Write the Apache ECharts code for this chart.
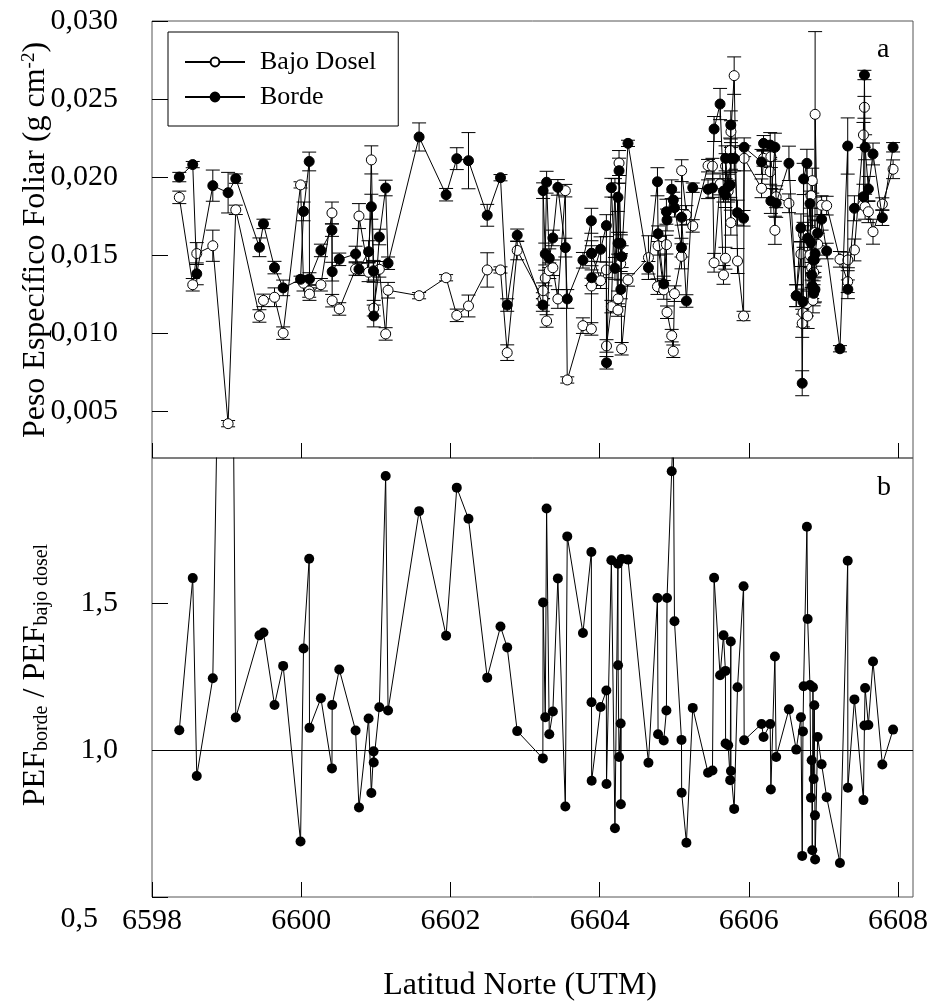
<!DOCTYPE html>
<html>
<head>
<meta charset="utf-8">
<script src="https://cdn.jsdelivr.net/npm/echarts@6/dist/echarts.min.js"></script>
<style>
html,body{margin:0;padding:0;background:#fff;}
#c{width:946px;height:1007px;}
</style>
</head>
<body>
<div id="c"></div>
<script>
// Latitud Norte (UTM, km)
const lat = [6598.366,6598.546,6598.600,6598.815,6599.020,6599.123,6599.440,6599.494,6599.642,6599.758,
6599.991,6600.031,6600.107,6600.111,6600.264,6600.412,6600.415,6600.510,6600.729,6600.774,
6600.903,6600.940,6600.970,6600.972,6601.047,6601.132,6601.164,6601.580,6601.942,6602.085,
6602.242,6602.493,6602.671,6602.761,6602.895,6603.239,6603.242,6603.271,6603.289,6603.325,
6603.373,6603.440,6603.540,6603.566,6603.776,6603.889,6603.891,6603.893,6604.013,6604.090,
6604.092,6604.157,6604.205,6604.245,6604.247,6604.260,6604.282,6604.284,6604.295,6604.380,
6604.654,6604.775,6604.783,6604.859,6604.895,6604.903,6604.966,6604.987,6605.003,6605.097,
6605.099,6605.163,6605.248,6605.453,6605.512,6605.534,6605.614,6605.660,6605.686,6605.688,
6605.723,6605.750,6605.758,6605.760,6605.803,6605.848,6605.929,6605.937,6606.170,6606.197,
6606.286,6606.295,6606.349,6606.366,6606.537,6606.635,6606.698,6606.715,6606.725,6606.734,
6606.778,6606.788,6606.819,6606.832,6606.842,6606.850,6606.859,6606.868,6606.877,6606.886,
6606.888,6606.922,6606.975,6607.043,6607.221,6607.325,6607.327,6607.415,6607.536,6607.549,
6607.558,6607.602,6607.664,6607.789,6607.933];
// Peso Especifico Foliar - Borde (g cm-2)
const borde = [0.0200,0.0208,0.0138,0.01945,0.0190,0.0199,0.0155,0.0170,0.0142,0.0129,
0.01345,0.0178,0.0210,0.01347,0.0153,0.0166,0.01394,0.01473,0.01507,0.01409,
0.01522,0.0181,0.01396,0.0111,0.01616,0.0193,0.01448,0.02257,0.01887,0.02118,
0.02105,0.01755,0.01996,0.0118,0.01627,0.0118,0.01913,0.01507,0.01967,0.0148,
0.0161,0.01934,0.01548,0.01219,0.01467,0.0172,0.01512,0.01355,0.01537,0.01689,
0.0081,0.01932,0.01415,0.0187,0.01576,0.02041,0.01576,0.0128,0.0149,0.02216,
0.01419,0.0197,0.01637,0.01315,0.01778,0.01725,0.01922,0.01853,0.01804,0.01548,
0.01742,0.01206,0.01932,0.01922,0.0193,0.02308,0.02468,0.0191,0.01885,0.0212,
0.01938,0.0195,0.02334,0.0212,0.0212,0.01772,0.01736,0.02191,0.02097,0.02216,
0.02205,0.01847,0.02191,0.01832,0.02088,0.0124,0.01674,0.00679,0.01202,0.01988,
0.02088,0.01608,0.0183,0.0158,0.01373,0.01302,0.01469,0.01255,0.01469,0.0128,
0.01509,0.0164,0.0173,0.01526,0.0090,0.02199,0.01281,0.0180,0.01874,0.02654,
0.02191,0.01924,0.02148,0.0174,0.02191];
// Peso Especifico Foliar - Bajo Dosel (g cm-2)
const bajoDosel = [0.0187,0.0131,0.0151,0.0156,0.0042,0.0179,0.0111,0.0121,0.0123,0.0100,
0.0195,0.0132,0.0127,0.0125,0.0131,0.0177,0.01208,0.01155,0.01411,0.0175,
0.0139,0.0211,0.0140,0.0116,0.01409,0.00995,0.01275,0.0124,0.01355,0.01114,
0.01174,0.01405,0.01405,0.00875,0.0153,0.01219,0.01272,0.01353,0.01078,0.0140,
0.01419,0.01219,0.01913,0.0070,0.01048,0.01027,0.01302,0.0151,0.01336,0.01405,
0.00918,0.0117,0.0193,0.01148,0.0122,0.0209,0.01445,0.0157,0.0090,0.01341,
0.01484,0.01298,0.0156,0.01277,0.01567,0.01134,0.00984,0.00884,0.01253,0.01492,
0.02041,0.01757,0.01687,0.02073,0.0207,0.01451,0.01956,0.01373,0.0148,0.0207,
0.0191,0.0217,0.01708,0.02291,0.0265,0.01462,0.0111,0.0212,0.01928,0.0212,
0.02034,0.02131,0.01659,0.01874,0.01832,0.0124,0.01507,0.01063,0.0113,0.0163,
0.0119,0.0111,0.0150,0.01881,0.0142,0.01977,0.0121,0.0139,0.01274,0.01645,
0.02402,0.0157,0.0182,0.01817,0.01473,0.0133,0.01469,0.01533,0.0227,0.02447,
0.0181,0.01778,0.0165,0.01827,0.0205];
// Error (SE) Borde
const errBorde = [0.0003,0.0002,0.0007,0.0010,0.0013,0.0003,0.0006,0.0003,0.0004,0.0005,
0.0002,0.0006,0.0006,0.0004,0.0004,0.0004,0.0006,0.0004,0.0005,0.0004,
0.0007,0.0008,0.0007,0.0007,0.0005,0.0005,0.0004,0.0009,0.0004,0.0007,
0.0018,0.0007,0.0002,0.0004,0.0004,0.0004,0.0005,0.0007,0.0007,0.0006,
0.0005,0.0005,0.0006,0.0006,0.0005,0.0008,0.0008,0.0005,0.0008,0.0007,
0.0004,0.0006,0.0007,0.0009,0.0007,0.0008,0.0007,0.0006,0.0007,0.0002,
0.0004,0.0009,0.0005,0.0005,0.0008,0.0007,0.0006,0.0005,0.0006,0.0006,
0.0005,0.0004,0.0003,0.0006,0.0006,0.0008,0.0010,0.0007,0.0008,0.0008,
0.0008,0.0008,0.0009,0.0007,0.0008,0.0008,0.0005,0.0006,0.0008,0.0005,
0.0008,0.0008,0.0009,0.0009,0.0011,0.0007,0.0009,0.0008,0.0008,0.0010,
0.0009,0.0008,0.0008,0.0008,0.0008,0.0008,0.0008,0.0008,0.0008,0.0008,
0.0008,0.0008,0.0007,0.0005,0.0002,0.0018,0.0006,0.0008,0.0008,0.0003,
0.0008,0.0008,0.0007,0.0005,0.0003];
// Error (SE) Bajo Dosel
const errBajo = [0.0004,0.0004,0.0007,0.0010,0.0002,0.0003,0.0004,0.0004,0.0006,0.0004,
0.0002,0.0005,0.0004,0.0004,0.0004,0.0007,0.0004,0.0004,0.0004,0.0008,
0.0006,0.0009,0.0006,0.0005,0.0005,0.0004,0.0005,0.0002,0.0002,0.0004,
0.0007,0.0011,0.0002,0.0005,0.0006,0.0004,0.0005,0.0005,0.0004,0.0005,
0.0005,0.0006,0.0004,0.0002,0.0005,0.0004,0.0005,0.0005,0.0005,0.0005,
0.0004,0.0004,0.0006,0.0004,0.0005,0.0008,0.0005,0.0006,0.0004,0.0004,
0.0014,0.0005,0.0006,0.0006,0.0006,0.0004,0.0004,0.0004,0.0005,0.0008,
0.0007,0.0006,0.0004,0.0004,0.0005,0.0006,0.0007,0.0006,0.0007,0.0008,
0.0007,0.0008,0.0008,0.0007,0.0012,0.0008,0.0003,0.0008,0.0006,0.0005,
0.0008,0.0007,0.0009,0.0007,0.0006,0.0007,0.0008,0.0009,0.0009,0.0008,
0.0008,0.0008,0.0008,0.0008,0.0008,0.0008,0.0008,0.0008,0.0008,0.0008,
0.0053,0.0007,0.0006,0.0006,0.0005,0.0007,0.0005,0.0007,0.0008,0.0007,
0.0008,0.0007,0.0008,0.0004,0.0006];
// PEF borde / PEF bajo dosel
const ratio = [1.068,1.586,0.912,1.245,4.40,1.111,1.391,1.401,1.154,1.287,
0.689,1.346,1.652,1.076,1.177,0.938,1.154,1.275,1.067,0.805,
1.108,0.854,0.996,0.958,1.146,1.934,1.135,1.814,1.390,1.894,
1.788,1.247,1.421,1.350,1.065,0.972,1.503,1.112,1.823,1.054,
1.132,1.585,0.808,1.728,1.399,1.675,1.163,0.896,1.147,1.203,
0.885,1.647,0.734,1.635,1.289,0.977,1.091,0.816,1.651,1.649,
0.957,1.518,1.054,1.033,1.135,1.518,1.950,2.096,1.439,1.035,
0.855,0.685,1.144,0.923,0.931,1.587,1.255,1.391,1.270,1.023,
1.017,0.898,1.370,0.929,0.800,1.214,1.558,1.034,1.089,1.045,
1.089,0.866,1.319,0.977,1.139,1.002,1.112,0.640,1.064,1.218,
1.761,1.447,1.222,0.838,0.966,0.659,1.214,0.902,1.153,0.778,
0.628,1.045,0.952,0.840,0.616,1.645,0.872,1.173,0.830,1.084,
1.212,1.086,1.302,0.951,1.070];

const xTicks = [6598,6600,6602,6604,6606,6608];
const yTicksA = [0.005,0.010,0.015,0.020,0.025,0.030];
const yTicksB = [0.5,1.0,1.5];

const FONT = '"Liberation Serif","Times New Roman",serif';
const ptsBajo = lat.map((x,i)=>[x,bajoDosel[i],errBajo[i]]);
const ptsBorde = lat.map((x,i)=>[x,borde[i],errBorde[i]]);
const ptsRatio = lat.map((x,i)=>[x,ratio[i]]);

function errRender(params, api){
  const x = api.value(0), y = api.value(1), e = api.value(2);
  const top = api.coord([x, y+e]);
  const bot = api.coord([x, y-e]);
  const w = 7;
  const st = {stroke:'#000', lineWidth:1};
  return {type:'group', children:[
    {type:'line', shape:{x1:top[0],y1:top[1],x2:bot[0],y2:bot[1]}, style:st},
    {type:'line', shape:{x1:top[0]-w,y1:top[1],x2:top[0]+w,y2:top[1]}, style:st},
    {type:'line', shape:{x1:bot[0]-w,y1:bot[1],x2:bot[0]+w,y2:bot[1]}, style:st}
  ]};
}

const comma = v => String(v).replace('.', ',');
const chart = echarts.init(document.getElementById('c'), null, {renderer:'canvas'});
const axisCommon = {
  type:'value',
  axisLine:{show:false},
  splitLine:{show:false}
};
const tickFont = {color:'#000', fontSize:30, fontFamily:FONT};
chart.setOption({
  animation:false,
  backgroundColor:'#fff',
  textStyle:{fontFamily:FONT},
  grid:[
    {left:152, top:21, width:761, height:437, show:true, borderColor:'#555', borderWidth:1, backgroundColor:'transparent'},
    {left:152, top:458, width:761, height:439, show:true, borderColor:'#555', borderWidth:1, backgroundColor:'transparent'}
  ],
  xAxis:[
    Object.assign({}, axisCommon, {gridIndex:0, min:6598, max:6608.2,
      axisTick:{inside:true, length:15, customValues:xTicks, lineStyle:{color:'#000'}},
      axisLabel:{show:false}}),
    Object.assign({}, axisCommon, {gridIndex:1, min:6598, max:6608.2,
      axisTick:{inside:true, length:15, customValues:xTicks, lineStyle:{color:'#000'}},
      axisLabel:Object.assign({customValues:xTicks, margin:9, formatter:v=>String(v)}, tickFont)})
  ],
  yAxis:[
    Object.assign({}, axisCommon, {gridIndex:0, min:0.002, max:0.030,
      axisTick:{inside:true, length:16, customValues:yTicksA, lineStyle:{color:'#000'}},
      axisLabel:Object.assign({customValues:yTicksA, margin:34,
        formatter:v=>comma(v.toFixed(3))}, tickFont)}),
    Object.assign({}, axisCommon, {gridIndex:1, min:0.5, max:1.995,
      axisTick:{inside:true, length:16, customValues:yTicksB, lineStyle:{color:'#000'}},
      axisLabel:Object.assign({customValues:yTicksB, margin:34,
        formatter:v=> v < 0.75 ? '{low|' + comma(v.toFixed(1)) + '}' : comma(v.toFixed(1)),
        rich:{low:{color:'#000', fontSize:30, fontFamily:FONT, padding:[44,20,0,0]}}}, tickFont)})
  ],
  legend:{
    data:['Bajo Dosel','Borde'],
    orient:'vertical', left:168, top:32,
    padding:[17,22,16,16], itemGap:9,
    itemWidth:60, itemHeight:11,
    borderColor:'#000', borderWidth:1, borderRadius:0,
    textStyle:{color:'#000', fontSize:26, fontFamily:FONT, padding:[0,0,0,10]},
    selectedMode:false
  },
  graphic:[
    {type:'text', left:877, top:36, style:{text:'a', font:'28px '+FONT, fill:'#000'}},
    {type:'text', left:877, top:474, style:{text:'b', font:'28px '+FONT, fill:'#000'}},
    {type:'text', x:36, y:240, rotation:Math.PI/2,
      style:{text:'Peso Específico Foliar (g cm{sup|-2})', fontSize:32, fontFamily:FONT, fill:'#000',
        align:'center', verticalAlign:'middle',
        rich:{sup:{fontSize:19, fontFamily:FONT, fill:'#000', verticalAlign:'top'}}}},
    {type:'text', x:36, y:675, rotation:Math.PI/2,
      style:{text:'PEF{sub|borde} / PEF{sub|bajo dosel}', fontSize:32, fontFamily:FONT, fill:'#000',
        align:'center', verticalAlign:'middle',
        rich:{sub:{fontSize:20, fontFamily:FONT, fill:'#000', verticalAlign:'bottom'}}}},
    {type:'text', x:520, y:986,
      style:{text:'Latitud Norte (UTM)', fontSize:32, fontFamily:FONT, fill:'#000',
        align:'center', verticalAlign:'middle'}}
  ],
  series:[
    {name:'errBajo', type:'custom', xAxisIndex:0, yAxisIndex:0, renderItem:errRender, data:ptsBajo, z:1, silent:true},
    {name:'errBorde', type:'custom', xAxisIndex:0, yAxisIndex:0, renderItem:errRender, data:ptsBorde, z:1, silent:true},
    {name:'Bajo Dosel', type:'line', xAxisIndex:0, yAxisIndex:0, data:ptsBajo.map(p=>[p[0],p[1]]),
      symbol:'circle', symbolSize:10, showAllSymbol:true,
      lineStyle:{color:'#000', width:1}, itemStyle:{color:'#fff', borderColor:'#000', borderWidth:1}, z:3},
    {name:'Borde', type:'line', xAxisIndex:0, yAxisIndex:0, data:ptsBorde.map(p=>[p[0],p[1]]),
      symbol:'circle', symbolSize:10, showAllSymbol:true,
      lineStyle:{color:'#000', width:1}, itemStyle:{color:'#000', borderColor:'#000', borderWidth:1}, z:4},
    {name:'ratio', type:'line', xAxisIndex:1, yAxisIndex:1, data:ptsRatio,
      symbol:'circle', symbolSize:10, showAllSymbol:true,
      lineStyle:{color:'#000', width:1}, itemStyle:{color:'#000'}, z:3,
      markLine:{silent:true, symbol:'none', label:{show:false},
        lineStyle:{color:'#000', width:1, type:'solid'}, data:[{yAxis:1.0}]}}
  ]
});
</script>
</body>
</html>
